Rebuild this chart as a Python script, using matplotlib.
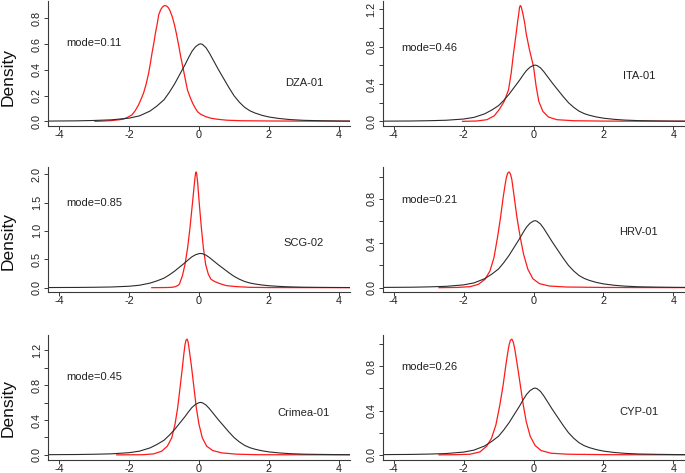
import matplotlib
matplotlib.use("Agg")
import matplotlib.pyplot as plt
from matplotlib.ticker import FixedLocator, FixedFormatter

plt.rcParams['font.family'] = ['Liberation Sans', 'DejaVu Sans']

# ---------------- data ----------------
# shared reference density (black curve)
black_x = [-4.4, -4.0, -3.5, -3.0, -2.5, -2.0, -1.7, -1.4, -1.2, -1.0, -0.85, -0.7, -0.55,
           -0.4, -0.3, -0.2, -0.1, 0.0, 0.05, 0.1, 0.2, 0.3, 0.4, 0.55, 0.7, 0.85, 1.0,
           1.15, 1.3, 1.45, 1.6, 1.8, 2.0, 2.3, 2.6, 3.0, 3.5, 4.0, 4.5]
black_y = [0.002, 0.003, 0.004, 0.007, 0.012, 0.025, 0.043, 0.08, 0.12, 0.168, 0.225, 0.29,
           0.365, 0.44, 0.495, 0.545, 0.58, 0.600, 0.603, 0.598, 0.573, 0.53, 0.48, 0.405,
           0.335, 0.265, 0.20, 0.15, 0.11, 0.083, 0.065, 0.047, 0.034, 0.022, 0.014, 0.008,
           0.005, 0.003, 0.002]

dza_x = [-2.97, -2.55, -2.3, -2.16, -2.05, -1.92, -1.83, -1.73, -1.66, -1.585, -1.51, -1.44,
         -1.39, -1.343, -1.29, -1.246, -1.2, -1.15, -1.1, -1.05, -1.0, -0.96, -0.92, -0.87,
         -0.82, -0.76, -0.70, -0.64, -0.58, -0.52, -0.454, -0.39, -0.33, -0.25, -0.18, -0.1,
         -0.04, 0.05, 0.2, 0.35, 0.54, 0.8, 1.2, 2.0, 3.0, 4.5]
dza_y = [0.0, 0.005, 0.012, 0.018, 0.03, 0.05, 0.08, 0.127, 0.17, 0.22, 0.29, 0.374,
         0.45, 0.53, 0.61, 0.685, 0.75, 0.83, 0.865, 0.888, 0.899, 0.90, 0.896, 0.882,
         0.855, 0.81, 0.75, 0.675, 0.59, 0.50, 0.412, 0.325, 0.244, 0.185, 0.14, 0.10,
         0.075, 0.055, 0.036, 0.024, 0.016, 0.009, 0.005, 0.003, 0.002, 0.001]

ita_x = [-2.03, -1.62, -1.33, -1.12, -0.97, -0.838, -0.714, -0.638, -0.571, -0.495, -0.45,
         -0.42, -0.40, -0.38, -0.36, -0.34, -0.305, -0.25, -0.21, -0.114, 0.0, 0.076, 0.152,
         0.267, 0.43, 0.667, 1.14, 2.0, 3.0, 4.5]
ita_y = [0.0, 0.004, 0.018, 0.06, 0.132, 0.214, 0.338, 0.516, 0.73, 0.943, 1.08,
         1.157, 1.22, 1.24, 1.235, 1.21, 1.157, 1.05, 0.943, 0.765, 0.587, 0.374, 0.214,
         0.107, 0.046, 0.018, 0.007, 0.003, 0.002, 0.001]

scg_x = [-1.35, -1.0, -0.8, -0.686, -0.6, -0.56, -0.476, -0.4, -0.324, -0.257, -0.19, -0.133,
         -0.11, -0.095, -0.08, -0.065, -0.038, 0.0095, 0.067, 0.124, 0.19, 0.267, 0.343,
         0.457, 0.6, 0.79, 1.08, 1.46, 2.0, 3.0, 4.5]
scg_y = [0.0, 0.002, 0.005, 0.015, 0.04, 0.065, 0.206, 0.41, 0.707, 1.06, 1.47, 1.83,
         1.96, 2.03, 2.04, 2.0, 1.85, 1.47, 1.06, 0.707, 0.41, 0.236, 0.147, 0.106,
         0.07, 0.035, 0.018, 0.006, 0.002, 0.001, 0.0005]

hrv_x = [-2.7, -2.19, -1.81, -1.575, -1.387, -1.245, -1.13, -1.03, -0.943, -0.868, -0.82,
         -0.78, -0.74, -0.70, -0.66, -0.62, -0.557, -0.472, -0.377, -0.283, -0.16, -0.019,
         0.17, 0.453, 0.925, 2.0, 3.0, 4.5]
hrv_y = [0.0, 0.002, 0.009, 0.03, 0.075, 0.15, 0.27, 0.45, 0.63, 0.81, 0.91,
         0.985, 1.03, 1.042, 1.025, 0.975, 0.83, 0.63, 0.45, 0.30, 0.165, 0.081,
         0.036, 0.015, 0.006, 0.002, 0.001, 0.0005]

crimea_x = [-2.35, -1.59, -1.3, -1.067, -0.905, -0.78, -0.686, -0.61, -0.543, -0.476, -0.43,
            -0.40, -0.37, -0.34, -0.31, -0.276, -0.21, -0.143, -0.076, 0.0, 0.095, 0.22,
            0.39, 0.648, 1.076, 1.65, 3.0, 4.5]
crimea_y = [0.0, 0.002, 0.011, 0.042, 0.10, 0.195, 0.35, 0.54, 0.767, 1.0, 1.17,
            1.265, 1.32, 1.33, 1.295, 1.20, 1.0, 0.767, 0.54, 0.35, 0.195, 0.10,
            0.05, 0.023, 0.008, 0.002, 0.001, 0.0005]

cyp_x = [-2.7, -2.2, -1.81, -1.53, -1.34, -1.2, -1.075, -0.962, -0.868, -0.79, -0.74,
         -0.70, -0.66, -0.62, -0.58, -0.54, -0.462, -0.377, -0.292, -0.208, -0.094, 0.047,
         0.217, 0.5, 0.97, 2.0, 3.0, 4.5]
cyp_y = [0.0, 0.002, 0.006, 0.027, 0.078, 0.15, 0.27, 0.45, 0.63, 0.81, 0.915,
         0.99, 1.035, 1.045, 1.02, 0.965, 0.81, 0.63, 0.45, 0.30, 0.168, 0.084,
         0.039, 0.015, 0.006, 0.002, 0.001, 0.0005]

panel_names = ['DZA-01', 'ITA-01', 'SCG-02', 'HRV-01', 'Crimea-01', 'CYP-01']
mode_labels = ['mode=0.11', 'mode=0.46', 'mode=0.85', 'mode=0.21', 'mode=0.45', 'mode=0.26']
red_curves = [(dza_x, dza_y), (ita_x, ita_y), (scg_x, scg_y),
              (hrv_x, hrv_y), (crimea_x, crimea_y), (cyp_x, cyp_y)]

x_ticks = [-4, -2, 0, 2, 4]
y_ticks = [[0.0, 0.2, 0.4, 0.6, 0.8],
           [0.0, 0.2, 0.4, 0.6, 0.8, 1.0, 1.2],
           [0.0, 0.5, 1.0, 1.5, 2.0],
           [0.0, 0.2, 0.4, 0.6, 0.8, 1.0],
           [0.0, 0.2, 0.4, 0.6, 0.8, 1.0, 1.2],
           [0.0, 0.2, 0.4, 0.6, 0.8, 1.0]]
y_ticklabels = [['0.0', '0.2', '0.4', '0.6', '0.8'],
                ['0.0', '', '0.4', '', '0.8', '', '1.2'],
                ['0.0', '0.5', '1.0', '1.5', '2.0'],
                ['0.0', '', '0.4', '', '0.8', ''],
                ['0.0', '', '0.4', '', '0.8', '', '1.2'],
                ['0.0', '', '0.4', '', '0.8', '']]

# ---------------- layout ----------------
W, H = 685, 473
fig = plt.figure(figsize=(W / 100, H / 100), dpi=100)

col_left = [48, 382.5]
col_width = 302
row_top = [1, 167.3, 334.5]
ax_h = 125
xlim = (-4.315, 4.315)

mode_pos = [(-3.8, 0.61), (-3.78, 0.79), (-3.78, 1.50), (-3.78, 0.79), (-3.78, 0.89), (-3.78, 0.79)]
name_pos = [(2.46, 0.30), (2.55, 0.49), (2.41, 0.78), (2.46, 0.50), (2.25, 0.486), (2.46, 0.39)]

axis_col = '#3a3a3a'
for i in range(6):
    r, c = divmod(i, 2)
    L = col_left[c]
    T = row_top[r]
    ax = fig.add_axes([L / W, 1 - (T + ax_h) / H, col_width / W, ax_h / H])
    rx, ry = red_curves[i]
    ax.plot(rx, ry, color='#ff1a1a', lw=0.9, solid_joinstyle='round')
    ax.plot(black_x, black_y, color='#2b2b2b', lw=0.8, solid_joinstyle='round')
    ymax = max(max(ry), max(black_y))
    ax.set_xlim(*xlim)
    ax.set_ylim(-0.04 * ymax, 1.04 * ymax)
    for s in ['top', 'right']:
        ax.spines[s].set_visible(False)
    for s in ['left', 'bottom']:
        ax.spines[s].set_color(axis_col)
        ax.spines[s].set_linewidth(0.8)
    ax.xaxis.set_major_locator(FixedLocator(x_ticks))
    ax.xaxis.set_major_formatter(FixedFormatter([str(t) for t in x_ticks]))
    ax.yaxis.set_major_locator(FixedLocator(y_ticks[i]))
    ax.yaxis.set_major_formatter(FixedFormatter(y_ticklabels[i]))
    ax.tick_params(axis='both', direction='out', length=3.0, width=0.7, color=axis_col,
                   labelsize=7.8, labelcolor='#222222')
    ax.tick_params(axis='x', pad=0.0)
    ax.tick_params(axis='y', pad=1.5)
    for lab in ax.get_yticklabels():
        lab.set_rotation(90)
        lab.set_va('center')
    ax.text(mode_pos[i][0], mode_pos[i][1], mode_labels[i], ha='left', va='center',
            fontsize=8, color='#222222')
    ax.text(name_pos[i][0], name_pos[i][1], panel_names[i], ha='left', va='center',
            fontsize=8, color='#222222')

for yc in [77.5, 241.5, 407.5]:
    fig.text(8.5 / W, 1 - yc / H, 'Density', rotation=90, ha='center', va='center',
             fontsize=12.5, color='#111111')

fig.savefig('out.png', dpi=100)
